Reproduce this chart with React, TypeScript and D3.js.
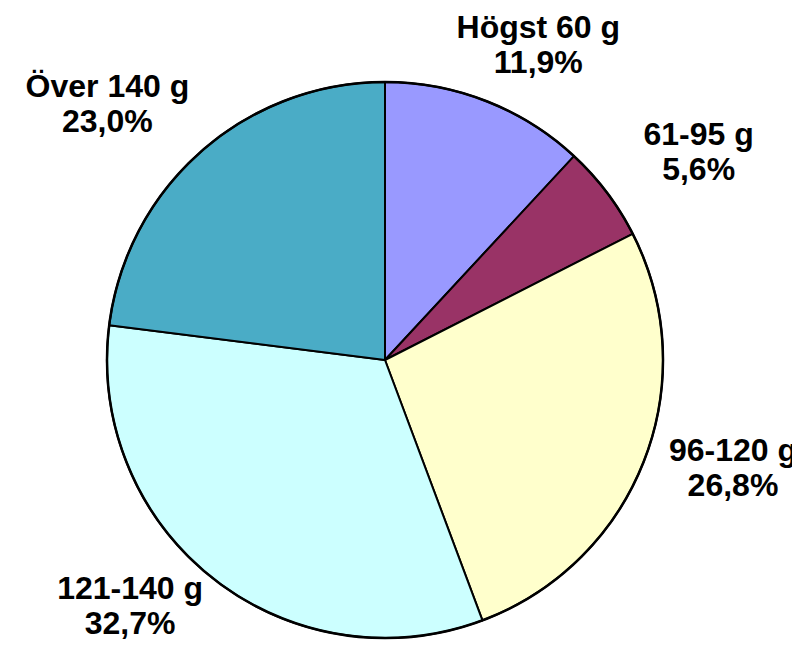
import React from "react";
import * as d3 from "d3";

const categories = ["Högst 60 g", "61-95 g", "96-120 g", "121-140 g", "Över 140 g"];
const shares = [11.9, 5.6, 26.8, 32.7, 23.0];
const colors = ["#9999FF", "#993366", "#FFFFCC", "#CCFFFF", "#4AACC6"];

const W = 800;
const H = 648;
const cx = 385;
const cy = 360;
const R = 278;
const labelRx = 338;
const labelRy = 327;
const fontSize = 32;
const lineGap = 35;
const FONT = "'Liberation Sans', Arial, sans-serif";

function measure(text: string): number {
  const ctx = document.createElement("canvas").getContext("2d");
  if (!ctx) return text.length * fontSize * 0.55;
  ctx.font = `bold ${fontSize}px ${FONT}`;
  return ctx.measureText(text).width;
}

export default function App() {
  const pie = d3.pie<number>().sort(null).value((d) => d);
  const arcs = pie(shares);
  const arcGen = d3.arc<d3.PieArcDatum<number>>().innerRadius(0).outerRadius(R);
  const fmt = (v: number) => v.toFixed(1).replace(".", ",") + "%";

  return (
    <div style={{ margin: -8 }}>
      <svg width={W} height={H} style={{ display: "block", background: "#fff" }}>
        <g transform={`translate(${cx},${cy})`}>
          {arcs.map((a, i) => (
            <path key={i} d={arcGen(a) || ""} fill={colors[i]} stroke="#000" strokeWidth={2} strokeLinejoin="round" />
          ))}
          <circle r={R} fill="none" stroke="#000" strokeWidth={2.5} />
          {arcs.map((a, i) => {
            const mid = (a.startAngle + a.endAngle) / 2;
            const s = Math.sin(mid);
            const c = Math.cos(mid);
            const l1 = categories[i];
            const l2 = fmt(shares[i]);
            const halfW = Math.max(measure(l1), measure(l2)) / 2;
            let x = s * (labelRx + halfW);
            const minX = -cx + halfW + 3;
            const maxX = W - cx - halfW - 3;
            x = Math.max(minX, Math.min(maxX, x));
            const y = -c * labelRy;
            return (
              <text
                key={i}
                textAnchor="middle"
                fontFamily={FONT}
                fontWeight="bold"
                fontSize={fontSize}
                fill="#000"
              >
                <tspan x={x} y={y - lineGap / 2}>{l1}</tspan>
                <tspan x={x} y={y + lineGap / 2}>{l2}</tspan>
              </text>
            );
          })}
        </g>
      </svg>
    </div>
  );
}
